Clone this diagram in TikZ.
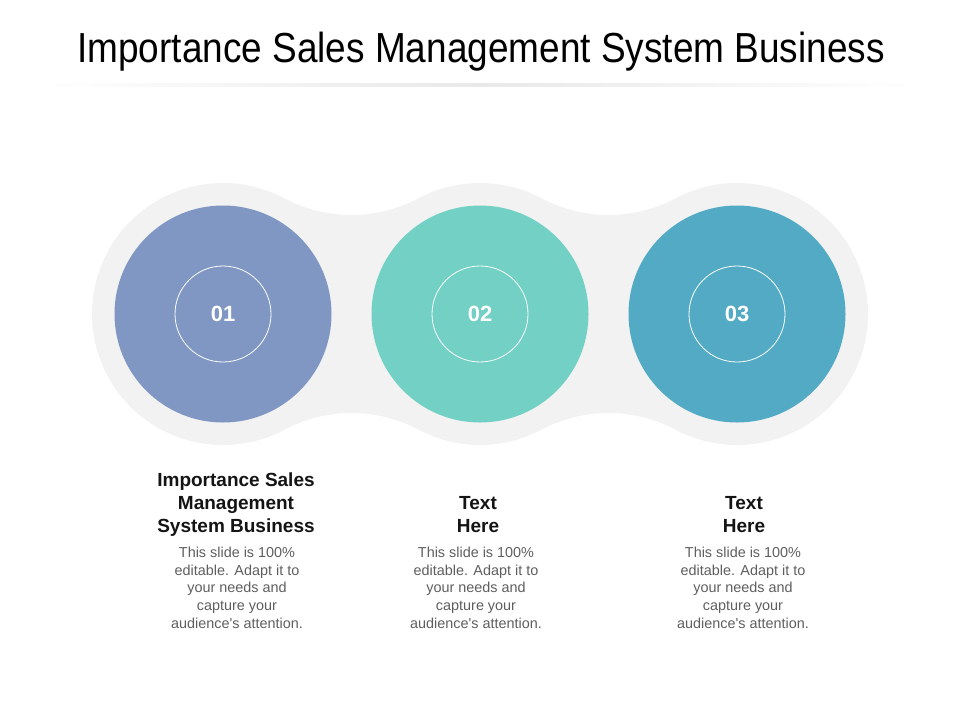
\documentclass[tikz,border=0pt]{standalone}
\usepackage{fontspec}
\setmainfont{Liberation Sans}
\newfontfamily\titlefont[FakeStretch=0.88]{Liberation Sans}
\definecolor{blobgray}{HTML}{F2F2F2}
\definecolor{circA}{HTML}{7F97C2}
\definecolor{circB}{HTML}{72D0C4}
\definecolor{circC}{HTML}{52AAC4}
\definecolor{bodygray}{HTML}{5E5E5E}

\begin{document}
\begin{tikzpicture}[x=1pt, y=-1pt,
		disc/.style={circle, minimum size=217pt, inner sep=0pt},
		num/.style={circle, draw=white, line width=0.8pt, minimum size=96pt, inner sep=0pt, text=white, font=\fontsize{22}{26}\selectfont\bfseries},
		heading/.style={align=center, anchor=north, inner sep=0pt, text=black!92, font=\fontsize{19}{23}\selectfont\bfseries},
		body/.style={align=center, anchor=north, inner sep=0pt, text=bodygray, font=\fontsize{14.4}{17.6}\selectfont}]
			\useasboundingbox (0,0) rectangle (960,720);
			\node[inner sep=0pt, font=\titlefont\fontsize{42}{48}\selectfont] (title) at (481,52) {Importance Sales Management System Business};
			\fill[left color=white, right color=white, middle color=black!9] (45,83) rectangle (915,86);
			\fill[blobgray] (92,314) arc[start angle=180, end angle=297.97, radius=131]
				arc[start angle=117.97, end angle=62.03, radius=143]
				arc[start angle=242.03, end angle=297.97, radius=131]
				arc[start angle=117.97, end angle=62.03, radius=143]
				arc[start angle=242.03, end angle=477.97, radius=131]
				arc[start angle=297.97, end angle=242.03, radius=143]
				arc[start angle=62.03, end angle=117.97, radius=131]
				arc[start angle=297.97, end angle=242.03, radius=143]
				arc[start angle=62.03, end angle=180, radius=131] -- cycle;
			\node[disc, fill=circA] (d1) at (223,314) {};
			\node[disc, fill=circB] (d2) at (480,314) {};
			\node[disc, fill=circC] (d3) at (737,314) {};
			\node[num] (n1) at (d1) {01};
			\node[num] (n2) at (d2) {02};
			\node[num] (n3) at (d3) {03};
			\node[heading] (h1) at (236,473) {Importance Sales\\Management\\System Business};
			\node[heading] (h2) at (478,496) {Text\\Here};
			\node[heading] (h3) at (744,496) {Text\\Here};
			\node[body] (b1) at (237,547) {This slide is 100\%\\editable. Adapt it to\\your needs and\\capture your\\audience\textquotesingle s attention.};
			\node[body] (b2) at (476,547) {This slide is 100\%\\editable. Adapt it to\\your needs and\\capture your\\audience\textquotesingle s attention.};
			\node[body] (b3) at (743,547) {This slide is 100\%\\editable. Adapt it to\\your needs and\\capture your\\audience\textquotesingle s attention.};
		\end{tikzpicture}
\end{document}
